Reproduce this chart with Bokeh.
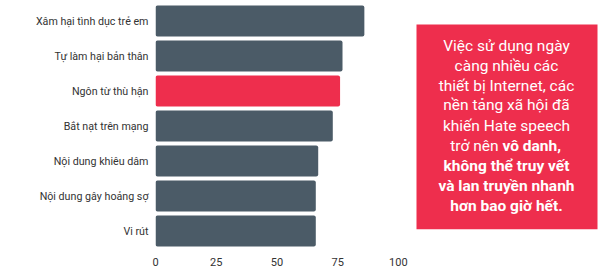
from bokeh.plotting import figure
from bokeh.layouts import row
from bokeh.models import Range1d, FixedTicker, ColumnDataSource
from bokeh.core.properties import value
from bokeh.embed import file_html
from bokeh.resources import INLINE

categories = ["Xâm hại tình dục trẻ em", "Tự làm hại bản thân", "Ngôn từ thù hận",
              "Bắt nạt trên mạng", "Nội dung khiêu dâm", "Nội dung gây hoảng sợ", "Vi rút"]
values = [86, 77, 76, 73, 67, 66, 66]
highlight = "Ngôn từ thù hận"
x_ticks = [0, 25, 50, 75, 100]

box_lines_regular = ["Việc sử dụng ngày", "càng nhiều các", "thiết bị Internet, các",
                     "nền tảng xã hội đã", "khiến Hate speech"]
box_mixed_regular = "trở nên"
box_mixed_bold = "vô danh,"
box_lines_bold = ["không thể truy vết", "và lan truyền nhanh", "hơn bao giờ hết."]

GRAY = "#4b5b67"
RED = "#ee2e4d"
FONT = "Roboto"

idx = list(range(len(categories)))
colors = [RED if c == highlight else GRAY for c in categories]
src = ColumnDataSource(dict(y=idx, v=values, c=colors))

p = figure(width=410, height=268, output_backend="svg", toolbar_location=None,
           x_range=Range1d(0, 105), y_range=Range1d(len(categories) - 0.5, -0.5),
           min_border_left=155, min_border_right=0, min_border_top=3, min_border_bottom=19)
p.hbar(y="y", right="v", left=0, height=0.88, fill_color="c", line_color=None,
       border_radius=2, source=src)
p.grid.visible = False
p.outline_line_color = None
p.background_fill_color = None
p.border_fill_color = "white"

p.xaxis.ticker = FixedTicker(ticks=x_ticks)
p.yaxis.ticker = FixedTicker(ticks=idx)
p.yaxis.major_label_overrides = {i: c for i, c in zip(idx, categories)}
for ax in (p.xaxis[0], p.yaxis[0]):
    ax.axis_line_color = None
    ax.major_tick_line_color = None
    ax.minor_tick_line_color = None
    ax.major_label_text_font = FONT
    ax.major_label_text_color = "#333333"
p.xaxis.major_label_text_font_size = "11px"
p.xaxis.major_label_standoff = 3
p.yaxis.major_label_text_font_size = "10.7px"
p.yaxis.major_label_standoff = 1

# text box panel
q = figure(width=190, height=268, output_backend="svg", toolbar_location=None,
           x_range=Range1d(0, 190), y_range=Range1d(268, 0),
           min_border=0)
q.axis.visible = False
q.grid.visible = False
q.outline_line_color = None
q.border_fill_color = "white"
q.background_fill_color = "white"
q.quad(left=6, right=187, top=23, bottom=247, fill_color=RED, line_color=None)

FS = "15.5px"
ys = [47, 68.5, 90, 111.5, 133.5, 155.5, 177.5, 199.5, 221.5]
reg_y = ys[:len(box_lines_regular)]
q.text(x=[96] * len(reg_y), y=reg_y, text=box_lines_regular, text_font=value(FONT),
       text_font_size=FS, text_color="white", text_align="center", text_baseline="middle")
my = ys[len(box_lines_regular)]
q.text(x=[88], y=[my], text=[box_mixed_regular], text_font=value(FONT),
       text_font_size=FS, text_color="white", text_align="right", text_baseline="middle")
q.text(x=[92], y=[my], text=[box_mixed_bold], text_font=value(FONT), text_font_style="bold",
       text_font_size=FS, text_color="white", text_align="left", text_baseline="middle")
bold_y = ys[len(box_lines_regular) + 1:]
q.text(x=[96] * len(bold_y), y=bold_y, text=box_lines_bold, text_font=value(FONT),
       text_font_style="bold", text_font_size=FS, text_color="white",
       text_align="center", text_baseline="middle")

layout = row(p, q, spacing=0)
open("out.html", "w").write(file_html(layout, INLINE))
